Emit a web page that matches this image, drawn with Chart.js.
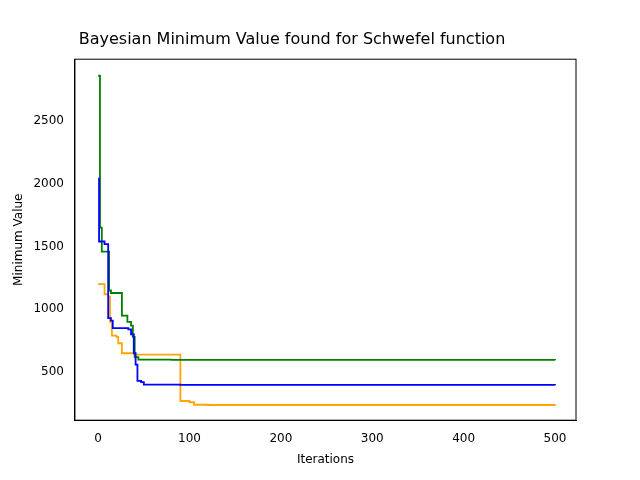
<!DOCTYPE html>
<html>
<head>
<script src="https://cdn.jsdelivr.net/npm/chart.js@4"></script>
<style>body{margin:0;background:#fff}#wrap{width:640px;height:480px}</style>
</head>
<body>
<div id="wrap"><canvas id="c"></canvas></div>
<script>
// step points: iteration -> best value so far
const blueX = [0, 1, 7, 11, 14, 16, 33, 36, 39, 41, 43, 47, 50, 90, 500];
const blueY = [2040, 1540, 1520, 930, 910, 850, 840, 800, 650, 560, 430, 420, 400, 398, 395];
const greenX = [0, 2, 4, 10, 12, 14, 24, 26, 32, 36, 38, 40, 44, 80, 500];
const greenY = [2860, 1650, 1460, 1460, 1150, 1130, 1130, 950, 900, 870, 780, 620, 600, 598, 595];
const orangeX = [0, 7, 11, 13, 15, 20, 22, 26, 40, 88, 90, 100, 105, 120, 500];
const orangeY = [1200, 1120, 1100, 900, 790, 780, 730, 650, 640, 640, 270, 260, 240, 238, 235];
const xTicks = [0, 100, 200, 300, 400, 500];
const yTicks = [500, 1000, 1500, 2000, 2500];

function pts(xs, ys) { return xs.map((x, i) => ({ x: x, y: ys[i] })); }
function ds(xs, ys, color) {
    return { data: pts(xs, ys), borderColor: color, borderWidth: 1.8, pointRadius: 0, stepped: 'before', fill: false };
}

new Chart(document.getElementById("c"), {
    type: "line",
    data: { datasets: [ds(blueX, blueY, "blue"), ds(greenX, greenY, "green"), ds(orangeX, orangeY, "orange")] },
    options: {
        responsive: true, maintainAspectRatio: false, animation: false,
        layout: { padding: { left: 8, right: 64, top: 10, bottom: 9 } },
        plugins: {
            legend: { display: false },
            title: { display: true, text: "Bayesian Minimum Value found for Schwefel function", color: "#000", font: { family: "DejaVu Sans", size: 16, weight: "normal" }, padding: { top: 20, bottom: 10 } }
        },
        scales: {
            x: {
                type: "linear", min: -25.4, max: 523,
                afterBuildTicks: a => { a.ticks = xTicks.map(v => ({ value: v })); },
                grid: { display: false, drawTicks: true },
                border: { color: "#000" },
                ticks: { color: "#000", font: { family: "DejaVu Sans", size: 12 }, maxRotation: 0, callback: v => String(v) },
                title: { display: true, text: "Iterations", color: "#000", font: { family: "DejaVu Sans", size: 12 } }
            },
            y: {
                min: 117, max: 2992,
                afterBuildTicks: a => { a.ticks = yTicks.map(v => ({ value: v })); },
                grid: { display: false },
                border: { color: "#000" },
                ticks: { color: "#000", font: { family: "DejaVu Sans", size: 12 }, callback: v => String(v) },
                title: { display: true, text: "Minimum Value", color: "#000", font: { family: "DejaVu Sans", size: 12 } }
            }
        }
    },
    plugins: [{
        id: "frame",
        afterDraw(chart) {
            const a = chart.chartArea, ctx = chart.ctx;
            ctx.save(); ctx.strokeStyle = "#000"; ctx.lineWidth = 1;
            ctx.strokeRect(a.left, a.top, a.right - a.left, a.bottom - a.top);
            ctx.restore();
        }
    }]
});
</script>
</body>
</html>
